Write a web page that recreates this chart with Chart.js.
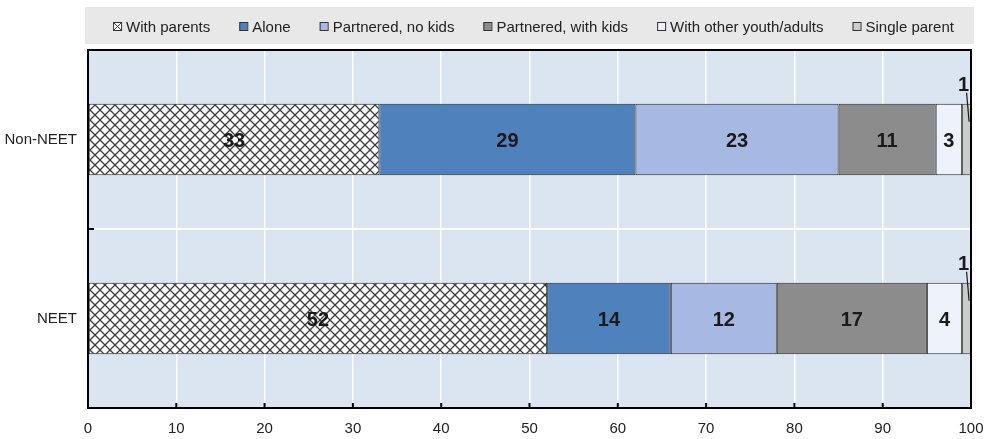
<!DOCTYPE html>
<html>
<head>
<meta charset="utf-8">
<script src="https://cdn.jsdelivr.net/npm/chart.js@4.4.0/dist/chart.umd.min.js"></script>
<style>
  html, body { margin: 0; padding: 0; background: #fff; }
  #wrap { width: 991px; height: 439px; }
</style>
</head>
<body>
<div id="wrap"><canvas id="myChart"></canvas></div>
<script>
const groups = ['Non-NEET', 'NEET'];
const seriesNames = ['With parents', 'Alone', 'Partnered, no kids', 'Partnered, with kids', 'With other youth/adults', 'Single parent'];
const withParents = [33, 52];
const alone = [29, 14];
const partneredNoKids = [23, 12];
const partneredWithKids = [11, 17];
const withOthers = [3, 4];
const singleParent = [1, 1];
const xTicks = [0, 10, 20, 30, 40, 50, 60, 70, 80, 90, 100];

const FONT = '"Liberation Sans", Arial, sans-serif';
Chart.defaults.font.family = FONT;
Chart.defaults.color = '#222';

// white tile with dark diagonal cross-hatching
function crossHatch() {
  const c = document.createElement('canvas');
  c.width = 10;
  c.height = 10;
  const g = c.getContext('2d');
  g.fillStyle = '#fff';
  g.fillRect(0, 0, 10, 10);
  g.strokeStyle = '#3c3c3c';
  g.lineWidth = 1.3;
  g.beginPath();
  g.moveTo(-2, -2); g.lineTo(12, 12);
  g.moveTo(12, -2); g.lineTo(-2, 12);
  g.stroke();
  return g.createPattern(c, 'repeat');
}

const fills = [crossHatch(), '#4f81bd', '#a7b9e2', '#8c8c8c', '#eef2fa', '#cccccc'];
const values = [withParents, alone, partneredNoKids, partneredWithKids, withOthers, singleParent];

const datasets = seriesNames.map((name, i) => ({
  label: name,
  data: values[i],
  backgroundColor: fills[i],
  borderColor: '#262626',
  borderWidth: 1,
  borderSkipped: false,
  barPercentage: 1,
  categoryPercentage: 0.4
}));

// plot background, frame and the short inward ticks
const frame = {
  id: 'frame',
  beforeDraw(chart) {
    const { ctx, chartArea: a } = chart;
    ctx.save();
    ctx.fillStyle = '#dbe5f1';
    ctx.fillRect(a.left, a.top, a.width, a.height);
    ctx.restore();
  },
  afterDatasetsDraw(chart) {
    const { ctx, chartArea: a, scales } = chart;
    ctx.save();
    ctx.strokeStyle = '#000';
    ctx.lineWidth = 2;
    ctx.strokeRect(a.left, a.top, a.width, a.height);
    ctx.beginPath();
    xTicks.forEach(v => {
      const px = scales.x.getPixelForValue(v);
      ctx.moveTo(px, a.bottom);
      ctx.lineTo(px, a.bottom - 5);
    });
    const mid = (scales.y.getPixelForValue(0) + scales.y.getPixelForValue(1)) / 2;
    ctx.moveTo(a.left, mid);
    ctx.lineTo(a.left + 6, mid);
    ctx.stroke();
    ctx.restore();
  }
};

// value labels inside segments, callout for the thin ones
const segLabels = {
  id: 'segLabels',
  afterDatasetsDraw(chart) {
    const ctx = chart.ctx;
    ctx.save();
    ctx.font = 'bold 20px ' + FONT;
    ctx.fillStyle = '#1a1a1a';
    ctx.strokeStyle = '#1a1a1a';
    ctx.lineWidth = 1.2;
    ctx.textAlign = 'center';
    ctx.textBaseline = 'middle';
    chart.data.datasets.forEach((ds, i) => {
      chart.getDatasetMeta(i).data.forEach((bar, j) => {
        const v = ds.data[j];
        const left = Math.min(bar.x, bar.base);
        const right = Math.max(bar.x, bar.base);
        const cx = (left + right) / 2;
        if (right - left > 20) {
          ctx.fillText(String(v), cx, bar.y + 2);
        } else {
          const top = bar.y - bar.height / 2;
          ctx.fillText(String(v), cx - 3, top - 18);
          ctx.beginPath();
          ctx.moveTo(cx, top - 11);
          ctx.lineTo(cx + 2.5, top + 18);
          ctx.stroke();
        }
      });
    });
    ctx.restore();
  }
};

// legend strip above the plot
const legendStrip = {
  id: 'legendStrip',
  afterDraw(chart) {
    const { ctx, chartArea: a } = chart;
    ctx.save();
    ctx.fillStyle = '#e8e8e8';
    ctx.fillRect(a.left - 3, 7, a.width + 6, 37);
    ctx.font = '15px ' + FONT;
    const box = 8, gapIn = 5, gapOut = 29;
    const items = chart.data.datasets.map(ds => ({
      ds,
      w: box + gapIn + ctx.measureText(ds.label).width
    }));
    const total = items.reduce((s, it) => s + it.w, 0) + gapOut * (items.length - 1);
    let x = (a.left + a.right) / 2 + 4 - total / 2;
    items.forEach(it => {
      const y = 22.5;
      const hatched = typeof it.ds.backgroundColor !== 'string';
      ctx.fillStyle = hatched ? '#fff' : it.ds.backgroundColor;
      ctx.fillRect(x, y, box, box);
      ctx.strokeStyle = '#333';
      ctx.lineWidth = 1;
      if (hatched) {
        ctx.beginPath();
        ctx.moveTo(x + 0.5, y); ctx.lineTo(x + box + 0.5, y + box);
        ctx.moveTo(x + box + 0.5, y); ctx.lineTo(x + 0.5, y + box);
        ctx.stroke();
      }
      ctx.strokeRect(x + 0.5, y, box, box);
      ctx.fillStyle = '#222';
      ctx.textBaseline = 'alphabetic';
      ctx.fillText(it.ds.label, x + box + gapIn, 32);
      x += it.w + gapOut;
    });
    ctx.restore();
  }
};

new Chart(document.getElementById('myChart'), {
  type: 'bar',
  data: { labels: groups, datasets: datasets },
  options: {
    indexAxis: 'y',
    responsive: true,
    maintainAspectRatio: false,
    animation: false,
    layout: { padding: { top: 50, right: 20, left: 0, bottom: 0 } },
    plugins: {
      legend: { display: false },
      tooltip: { enabled: false }
    },
    scales: {
      x: {
        stacked: true,
        min: xTicks[0],
        max: xTicks[xTicks.length - 1],
        ticks: { stepSize: 10, padding: 12, font: { size: 15 }, color: '#222' },
        grid: { color: '#fff', lineWidth: 1.5, drawTicks: false },
        border: { display: false },
        afterFit(s) {
          s.height = 31;
          s.paddingRight = 0;
        }
      },
      y: {
        stacked: true,
        ticks: { padding: 11, font: { size: 15 }, color: '#222' },
        grid: { color: '#fff', lineWidth: 2, drawTicks: false, offset: true },
        border: { display: false },
        afterFit(s) { s.width = 88; }
      }
    }
  },
  plugins: [frame, segLabels, legendStrip]
});
</script>
</body>
</html>
